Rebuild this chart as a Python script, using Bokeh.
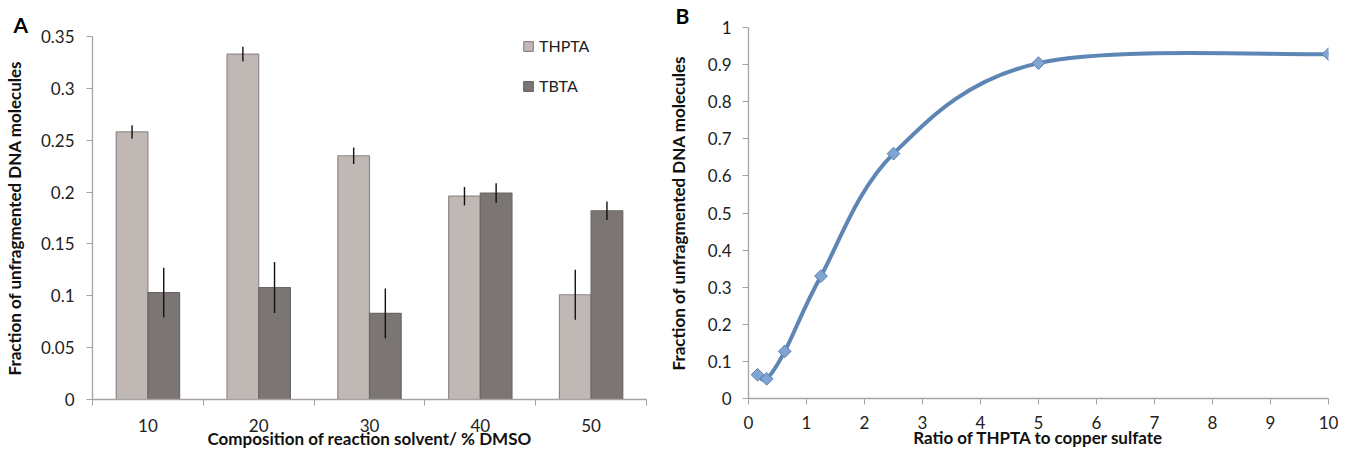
from bokeh.plotting import figure
from bokeh.layouts import row
from bokeh.models import (ColumnDataSource, FixedTicker, Legend, LegendItem,
                          Whisker, Range1d)
from bokeh.transform import dodge
from bokeh.embed import file_html
from bokeh.resources import INLINE

# ---------------- data ----------------
dmso = ["10", "20", "30", "40", "50"]
thpta = [0.258, 0.333, 0.235, 0.196, 0.101]
thpta_err = [0.0065, 0.007, 0.008, 0.009, 0.024]
tbta = [0.103, 0.108, 0.083, 0.199, 0.182]
tbta_err = [0.024, 0.0245, 0.024, 0.0095, 0.009]
ya_ticks = [0, 0.05, 0.1, 0.15, 0.2, 0.25, 0.3, 0.35]
ya_labels = ["0", "0.05", "0.1", "0.15", "0.2", "0.25", "0.3", "0.35"]

ratio = [0.156, 0.3125, 0.625, 1.25, 2.5, 5, 10]
frac = [0.064, 0.053, 0.127, 0.330, 0.660, 0.904, 0.928]
yb_ticks = [0, 0.1, 0.2, 0.3, 0.4, 0.5, 0.6, 0.7, 0.8, 0.9, 1]
yb_labels = ["0", "0.1", "0.2", "0.3", "0.4", "0.5", "0.6", "0.7", "0.8", "0.9", "1"]
xb_ticks = [0, 1, 2, 3, 4, 5, 6, 7, 8, 9, 10]

FONT = "Lato"
AX = "#A8A2A0"
TXT = "#222222"


def style_axis(ax):
    ax.axis_line_color = AX
    ax.axis_line_width = 1.3
    ax.major_tick_line_color = AX
    ax.minor_tick_line_color = AX
    ax.major_tick_in = 0
    ax.minor_tick_in = 0
    ax.major_label_text_font = FONT
    ax.major_label_text_font_size = "17px"
    ax.major_label_text_color = TXT
    ax.axis_label_text_font = FONT
    ax.axis_label_text_font_size = "17px"
    ax.axis_label_text_font_style = "bold"
    ax.axis_label_text_color = "#111111"


def style_title(p, text, offset, standoff):
    p.title.text = text
    p.title.align = "left"
    p.title.offset = offset
    p.title.standoff = standoff
    p.title.text_font = FONT
    p.title.text_font_style = "bold"
    p.title.text_font_size = "21px"
    p.title.text_color = "black"


H = 451

# ---------------- panel A ----------------
pos = [i + 0.5 for i in range(len(dmso))]
srcA = ColumnDataSource(dict(
    pos=pos, cat=dmso, thpta=thpta, tbta=tbta,
    t_up=[v + e for v, e in zip(thpta, thpta_err)],
    t_lo=[v - e for v, e in zip(thpta, thpta_err)],
    b_up=[v + e for v, e in zip(tbta, tbta_err)],
    b_lo=[v - e for v, e in zip(tbta, tbta_err)],
))

pA = figure(width=662, height=H, x_range=Range1d(0, 5), y_range=Range1d(0, 0.35),
            output_backend="svg", toolbar_location=None, frame_align=False,
            min_border_left=86, min_border_right=16, min_border_top=36,
            min_border_bottom=47)
pA.outline_line_color = None
pA.grid.visible = False
style_title(pA, "A", -79, 0)

bw = 0.2857
off = 0.1429
rT = pA.vbar(x=dodge("pos", -off, range=pA.x_range), top="thpta", bottom=0, width=bw,
             source=srcA, fill_color="#BFB8B5", line_color="#8F8886", line_width=1.2)
rB = pA.vbar(x=dodge("pos", off, range=pA.x_range), top="tbta", bottom=0, width=bw,
             source=srcA, fill_color="#7B7673", line_color="#6C6765", line_width=1.2)

pA.add_layout(Whisker(source=srcA, base=dodge("pos", -off, range=pA.x_range), upper="t_up",
                      lower="t_lo", upper_head=None, lower_head=None, level="annotation",
                      line_color="#111111", line_width=1.4))
pA.add_layout(Whisker(source=srcA, base=dodge("pos", off, range=pA.x_range), upper="b_up",
                      lower="b_lo", upper_head=None, lower_head=None, level="annotation",
                      line_color="#111111", line_width=1.4))

xa = pA.xaxis[0]
style_axis(xa)
xa.ticker = FixedTicker(ticks=pos, minor_ticks=list(range(len(dmso) + 1)))
xa.major_label_overrides = {p_: c for p_, c in zip(pos, dmso)}
xa.major_tick_out = 0
xa.minor_tick_out = 6
xa.major_label_standoff = 13
xa.axis_label = "Composition of reaction solvent/ % DMSO"
xa.axis_label_standoff = -7

ya = pA.yaxis[0]
style_axis(ya)
ya.ticker = FixedTicker(ticks=ya_ticks)
ya.major_label_overrides = {t: l for t, l in zip(ya_ticks, ya_labels)}
ya.major_tick_out = 6
ya.minor_tick_out = 0
ya.major_label_standoff = 12
ya.axis_label = "Fraction of unfragmented DNA molecules"
ya.axis_label_standoff = 13

legA = Legend(items=[LegendItem(label="THPTA", renderers=[rT]),
                     LegendItem(label="TBTA", renderers=[rB])],
              location=(430, 304), orientation="vertical",
              glyph_width=12, glyph_height=12, label_height=12, spacing=21,
              label_standoff=5, padding=0, margin=0,
              border_line_color=None, background_fill_alpha=0,
              label_text_font=FONT, label_text_font_size="16px", label_text_color=TXT)
pA.add_layout(legA)

# ---------------- panel B ----------------
n = len(ratio)
x0, y0, x1, y1, cx0, cy0, cx1, cy1 = [], [], [], [], [], [], [], []
for i in range(n - 1):
    a = max(i - 1, 0)
    d = min(i + 2, n - 1)
    x0.append(ratio[i]); y0.append(frac[i])
    x1.append(ratio[i + 1]); y1.append(frac[i + 1])
    cx0.append(ratio[i] + (ratio[i + 1] - ratio[a]) / 6)
    cy0.append(frac[i] + (frac[i + 1] - frac[a]) / 6)
    cx1.append(ratio[i + 1] - (ratio[d] - ratio[i]) / 6)
    cy1.append(frac[i + 1] - (frac[d] - frac[i]) / 6)
srcCurve = ColumnDataSource(dict(x0=x0, y0=y0, x1=x1, y1=y1, cx0=cx0, cy0=cy0, cx1=cx1, cy1=cy1))
srcPts = ColumnDataSource(dict(ratio=ratio, frac=frac))

pB = figure(width=676, height=H, x_range=Range1d(0, 10), y_range=Range1d(0, 1),
            output_backend="svg", toolbar_location=None, frame_align=False,
            min_border_left=86, min_border_right=10, min_border_top=25,
            min_border_bottom=53)
pB.outline_line_color = None
pB.grid.visible = False
style_title(pB, "B", -73, 0)

pB.bezier(x0="x0", y0="y0", x1="x1", y1="y1", cx0="cx0", cy0="cy0", cx1="cx1", cy1="cy1",
          source=srcCurve, line_color="#5D86B4", line_width=4, line_cap="round")
pB.scatter(x="ratio", y="frac", source=srcPts, marker="square", angle=0.785398, size=9,
           fill_color="#80A5D4", line_color="#5F7FA8", line_width=1)

xb = pB.xaxis[0]
style_axis(xb)
xb.ticker = FixedTicker(ticks=xb_ticks)
xb.major_tick_out = 6
xb.minor_tick_out = 0
xb.major_label_standoff = 11
xb.axis_label = "Ratio of THPTA to copper sulfate"
xb.axis_label_standoff = -5

yb = pB.yaxis[0]
style_axis(yb)
yb.ticker = FixedTicker(ticks=yb_ticks)
yb.major_label_overrides = {t: l for t, l in zip(yb_ticks, yb_labels)}
yb.major_tick_out = 6
yb.minor_tick_out = 0
yb.major_label_standoff = 11
yb.axis_label = "Fraction of unfragmented DNA molecules"
yb.axis_label_standoff = 16

layout = row(pA, pB)
open("out.html", "w").write(file_html(layout, INLINE))
